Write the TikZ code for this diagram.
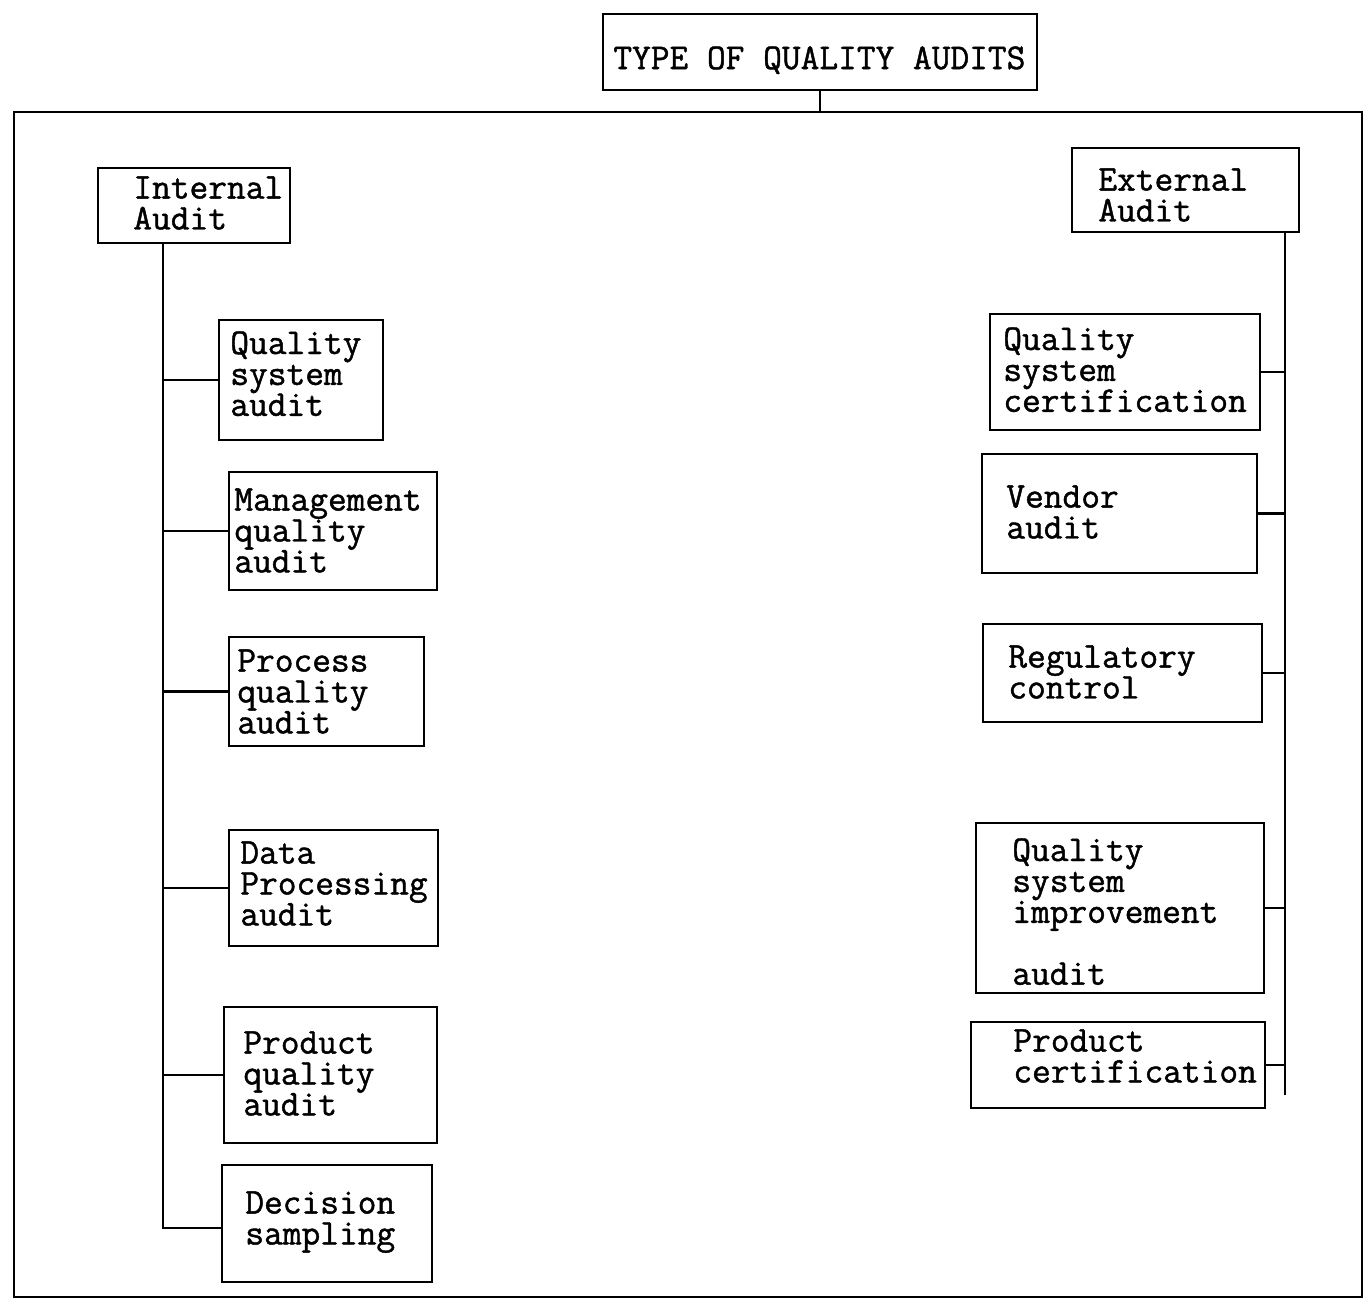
\documentclass[tikz,border=0pt]{standalone}
\usepackage{fontspec}
\newfontfamily\typefont[FakeBold=1.2]{Latin Modern Mono}
\newcommand\typesize{\fontsize{20.7}{17.6}\selectfont\typefont\lineskiplimit=-50pt\relax}
\usetikzlibrary{positioning,fit}

\begin{document}
\begin{tikzpicture}[x=0.02cm, y=-0.02cm,
    box/.style={draw, line width=1.2pt, inner sep=0pt},
    lbl/.style={font=\typesize, align=left, anchor=north west, inner sep=0pt},
    link/.style={line width=1.2pt},
]
\useasboundingbox (0,0) rectangle (1365,1310);

% Title and outer frame
\node[box, fit={(603,14) (1037,90)}] (title) {};
\node[lbl] (titlet) at (613,46) {TYPE OF QUALITY AUDITS};
\node[box, line width=1pt, fit={(14,112) (1362,1297)}] (frame) {};
\draw[link] (title.south) -- (title.south |- frame.north);

% Internal side
\node[box, fit={(98,168) (290,243)}] (ia) {};
\node[lbl] (iat) at (133,176) {Internal\\Audit};

\node[box, fit={(219,320) (383,440)}] (qsa) {};
\node[lbl] (qsat) at (230,331) {Quality\\system\\audit};

\node[box, fit={(229,472) (437,590)}] (mqa) {};
\node[lbl] (mqat) at (234,488) {Management\\quality\\audit};

\node[box, fit={(229,637) (424,746)}] (pcqa) {};
\node[lbl] (pcqat) at (237,649) {Process\\quality\\audit};

\node[box, fit={(229,830) (438,946)}] (dpa) {};
\node[lbl] (dpat) at (240,841) {Data\\Processing\\audit};

\node[box, fit={(224,1007) (437,1143)}] (pdqa) {};
\node[lbl] (pdqat) at (243,1031) {Product\\quality\\audit};

\node[box, fit={(222,1165) (432,1282)}] (dsm) {};
\node[lbl] (dsmt) at (245,1191) {Decision\\sampling};

\coordinate (lsp) at (163,1228);
\draw[link] (ia.south -| lsp) -- (lsp) -- (lsp -| dsm.west);
\foreach \n in {qsa,mqa,pcqa,dpa,pdqa}
    \draw[link] (\n.west) -- (\n.west -| lsp);

% External side
\node[box, fit={(1072,148) (1299,232)}] (ea) {};
\node[lbl] (eat) at (1098,168) {External\\Audit};

\node[box, fit={(990,314) (1260,430)}] (qsc) {};
\node[lbl] (qsct) at (1003,327) {Quality\\system\\certification};

\node[box, fit={(982,454) (1257,573)}] (va) {};
\node[lbl] (vat) at (1006,485) {Vendor\\audit};

\node[box, fit={(983,624) (1262,722)}] (rc) {};
\node[lbl] (rct) at (1008,645) {Regulatory\\control};

\node[box, fit={(976,823) (1264,993)}] (qsi) {};
\node[lbl] (qsit) at (1012,838) {Quality\\system\\improvement\\\mbox{}\\audit};

\node[box, fit={(971,1022) (1265,1108)}] (pc) {};
\node[lbl] (pct) at (1013,1029) {Product\\certification};

\coordinate (rsp) at (1285,1095);
\draw[link] (ea.south -| rsp) -- (rsp);
\foreach \n in {qsc,va,rc,qsi,pc}
    \draw[link] (\n.east) -- (\n.east -| rsp);

\end{tikzpicture}
\end{document}
